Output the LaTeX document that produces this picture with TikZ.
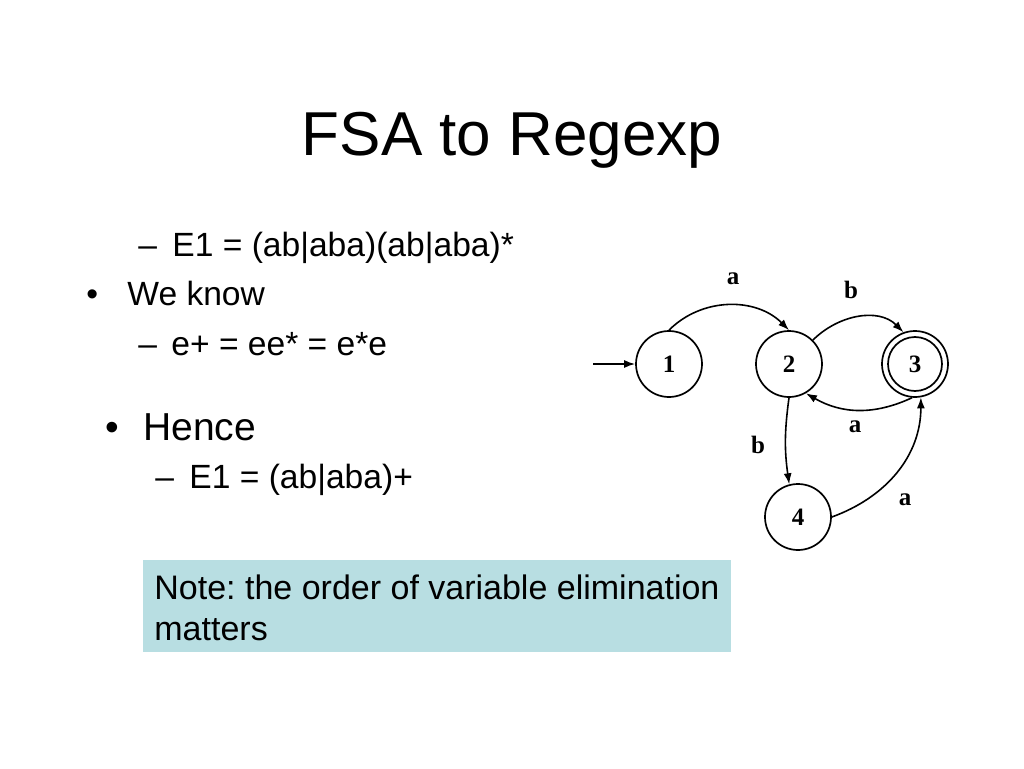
\documentclass[tikz,border=0pt]{standalone}
\usepackage{fontspec}
\setmainfont{Liberation Sans}
\newfontfamily\statefont{Liberation Serif}
\usetikzlibrary{arrows.meta}
\definecolor{notefill}{RGB}{184,222,226}
\frenchspacing
\tikzset{
	txt/.style={anchor=base west, inner sep=0pt, font=\fontsize{16.8}{20}\selectfont},
	big/.style={anchor=base west, inner sep=0pt, font=\fontsize{19.5}{23}\selectfont},
	state/.style={circle, draw, line width=0.85pt, minimum size=33pt, inner sep=0pt, font=\statefont\bfseries\fontsize{12.5}{14}\selectfont},
	lbl/.style={inner sep=0pt, font=\statefont\bfseries\fontsize{12.5}{14}\selectfont},
	edge/.style={-{Latex[length=5.5pt,width=4pt]}, line width=0.8pt},
}
\begin{document}
\begin{tikzpicture}[x=0.5pt,y=0.5pt]
\useasboundingbox (0,0) rectangle (1024,768);
\fill[white] (0,0) rectangle (1024,768);
% title
\node[inner sep=0pt, anchor=base, font=\fontsize{31}{36}\selectfont] (title) at (512,613) {FSA to Regexp};
% bullets
\node[txt] (dash1) at (138,512) {--};
\node[txt] (line1) at (172,512) {E1 = (ab|aba)(ab|aba)*};
\node[txt] (bul1) at (86,463) {•};
\node[txt] (know) at (127,463) {We know};
\node[txt] (dash2) at (138,413) {--};
\node[txt] (line2) at (171,413) {e+ = ee* = e*e};
\node[big] (bul2) at (105,328) {•};
\node[big] (hence) at (143,328) {Hence};
\node[txt] (dash3) at (155,280) {--};
\node[txt] (line3) at (189,280) {E1 = (ab|aba)+};
% note box
\node[fill=notefill, minimum width=294pt, minimum height=46pt, inner sep=0pt] (note) at (437,162) {};
\node[txt, font=\fontsize{17}{20}\selectfont] (note1) at (154,169) {Note: the order of variable elimination};
\node[txt, font=\fontsize{17}{20}\selectfont] (note2) at (154,128) {matters};
% automaton
\node[state] (s1) at (669,404) {1};
\node[state] (s2) at (789,404) {2};
\node[state] (s3) at (915,404) {3};
\draw[line width=0.85pt] (s3) circle[radius=13.5pt];
\node[state] (s4) at (798,251) {4};
\coordinate (start) at (593,404);
\draw[edge] (start) -- (s1);
\draw[edge] (s1.north) to[out=45,in=135] (s2.north);
\draw[edge] (s2.45) to[out=45,in=135] (s3.110);
\draw[edge] (s3.-95) to[out=205,in=-30] (s2.-60);
\draw[edge] (s2.south) to[bend right=8] (s4.105);
\draw[edge] (s4.east) to[out=20,in=-90] (s3.-80);
\node[lbl] (a12) at (733,489) {a};
\node[lbl] (b23) at (851,478) {b};
\node[lbl] (a32) at (855,341) {a};
\node[lbl] (b24) at (758,323) {b};
\node[lbl] (a43) at (905,268) {a};
\end{tikzpicture}
\end{document}
